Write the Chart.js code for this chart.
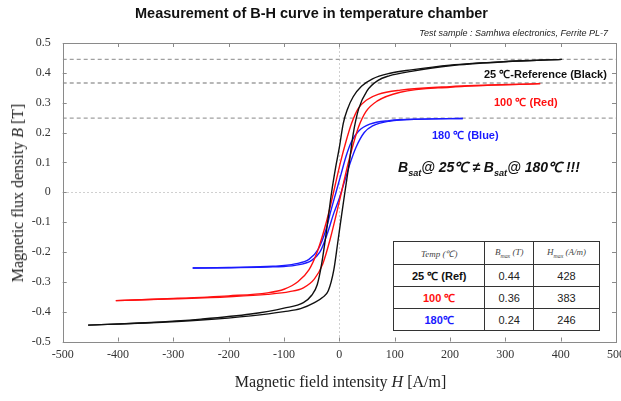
<!DOCTYPE html>
<html>
<head>
<meta charset="utf-8">
<script src="https://cdn.jsdelivr.net/npm/chart.js@4.4.1/dist/chart.umd.min.js"></script>
<style>
  body { margin: 0; background: #fff; }
  #wrap { position: relative; width: 621px; height: 401px; overflow: hidden; }
  #wrap canvas { position: absolute; left: 0; top: 0; }
  .txt { position: absolute; white-space: nowrap; line-height: 1; }
  .title { font: bold 14.5px "Liberation Sans", Arial, sans-serif; color: #111; left: 0; width: 623px; text-align: center; top: 5px; }
  .sub { font: italic 9px "Liberation Sans", Arial, sans-serif; color: #222; right: 13px; top: 28px; }
  .axt { font: 16px "Liberation Serif", "Times New Roman", serif; color: #222; }
  .lab { font: bold 11px "Liberation Sans", Arial, sans-serif; }
  .bsat { font: italic bold 14px "Liberation Sans", Arial, sans-serif; color: #111; }
  .bsat sub, th sub { font-size: 0.65em; }
  table { position: absolute; left: 393px; top: 241px; width: 207px; height: 87px;
          border-collapse: collapse; background: #fff; border: 1.5px solid #222; }
  td, th { border: 1px solid #333; text-align: center; padding: 0; }
  th { font: italic normal 9px "Liberation Serif", serif; color: #444; height: 22px; }
  td { font: 11px "Liberation Sans", Arial, sans-serif; color: #222; height: 21px; }
  td.t { font-weight: bold; }
</style>
</head>
<body>
<div id="wrap">
  <canvas id="bh" width="621" height="401"></canvas>
  <div class="txt title">Measurement of B-H curve in temperature chamber</div>
  <div class="txt sub">Test sample : Samhwa electronics, Ferrite PL-7</div>
  <div class="txt axt" style="left:0;width:681px;text-align:center;top:373px;">Magnetic field intensity <i>H</i> [A/m]</div>
  <div class="txt axt" style="left:18px;top:193px;transform:translate(-50%,-50%) rotate(-90deg);">Magnetic flux density <i>B</i> [T]</div>
  <div class="txt lab" style="left:484px;top:66px;color:#111;">25 ℃-Reference (Black)</div>
  <div class="txt lab" style="left:494px;top:94px;color:#ff1010;">100 ℃ (Red)</div>
  <div class="txt lab" style="left:432px;top:127px;color:#1a1aff;">180 ℃ (Blue)</div>
  <div class="txt bsat" style="left:398px;top:157px;">B<sub>sat</sub>@ 25℃ ≠ B<sub>sat</sub>@ 180℃ !!!</div>
  <table>
    <tr><th>Temp (℃)</th><th>B<sub>max</sub> (T)</th><th>H<sub>max</sub> (A/m)</th></tr>
    <tr><td class="t" style="color:#111;">25 ℃ (Ref)</td><td>0.44</td><td>428</td></tr>
    <tr><td class="t" style="color:#ff1010;">100 ℃</td><td>0.36</td><td>383</td></tr>
    <tr><td class="t" style="color:#1a1aff;">180℃</td><td>0.24</td><td>246</td></tr>
  </table>
</div>
<script>
// 25 C (black) loop
const hBlackDown = [-454, -350, -250, -160, -100, -65, -50, -40, -32, -24, -14, -7, 0, 7, 15, 25, 40, 60, 90, 130, 200, 300, 402];
const bBlackDown = [-0.445, -0.437, -0.425, -0.408, -0.388, -0.37, -0.345, -0.31, -0.24, -0.14, 0.0, 0.08, 0.15, 0.23, 0.28, 0.32, 0.355, 0.38, 0.398, 0.41, 0.426, 0.438, 0.445];
const hBlackUp = [-454, -350, -250, -160, -100, -70, -45, -30, -20, -10, -3, 3, 10, 18, 25, 35, 50, 70, 90, 130, 200, 300, 402];
const bBlackUp = [-0.445, -0.438, -0.428, -0.414, -0.4, -0.39, -0.37, -0.352, -0.33, -0.26, -0.17, -0.09, 0.0, 0.1, 0.195, 0.28, 0.34, 0.375, 0.39, 0.405, 0.424, 0.437, 0.445];

// 100 C (red) loop
const hRedDown = [-404, -300, -200, -130, -100, -75, -55, -40, -28, -18, -8, 2, 12, 22, 34, 50, 70, 110, 200, 363];
const bRedDown = [-0.363, -0.356, -0.347, -0.337, -0.325, -0.3, -0.26, -0.2, -0.13, -0.06, 0.02, 0.1, 0.17, 0.23, 0.28, 0.31, 0.328, 0.342, 0.354, 0.364];
const hRedUp = [-404, -300, -200, -130, -90, -65, -45, -30, -17, -5, 5, 15, 25, 35, 48, 68, 110, 200, 363];
const bRedUp = [-0.363, -0.357, -0.35, -0.342, -0.333, -0.32, -0.29, -0.24, -0.16, -0.07, 0.01, 0.09, 0.16, 0.22, 0.27, 0.305, 0.335, 0.352, 0.364];

// 180 C (blue) loop
const hBlueDown = [-265, -200, -120, -80, -55, -38, -25, -15, -6, 3, 12, 22, 35, 55, 90, 150, 223];
const bBlueDown = [-0.254, -0.252, -0.248, -0.24, -0.225, -0.19, -0.13, -0.06, 0.0, 0.06, 0.12, 0.17, 0.205, 0.228, 0.24, 0.245, 0.247];
const hBlueUp = [-265, -200, -120, -80, -50, -35, -22, -10, 0, 10, 20, 30, 45, 60, 90, 150, 223];
const bBlueUp = [-0.254, -0.253, -0.25, -0.245, -0.228, -0.2, -0.14, -0.07, -0.02, 0.04, 0.1, 0.15, 0.2, 0.222, 0.238, 0.245, 0.247];

// saturation reference levels (dashed)
const satLevels = [0.445, 0.366, 0.248];
const hRange = [-500, 500];

const pts = (h, b) => h.map((v, i) => ({ x: v, y: b[i] }));

const curve = (h, b, color) => ({
  data: pts(h, b),
  showLine: true,
  borderColor: color,
  borderWidth: 1.4,
  pointRadius: 0,
  cubicInterpolationMode: "monotone",
  fill: false,
});

const refLines = satLevels.map((v) => ({
  data: hRange.map((x) => ({ x, y: v })),
  showLine: true,
  borderColor: "#a0a0a0",
  borderWidth: 1.3,
  borderDash: [4, 3],
  pointRadius: 0,
}));

// inward ticks on all four sides + frame
const frameTicks = {
  id: "frameTicks",
  afterDraw(chart) {
    const { ctx, chartArea: a, scales: { x, y } } = chart;
    ctx.save();
    ctx.strokeStyle = "#8a8a8a";
    ctx.lineWidth = 1;
    ctx.beginPath();
    x.ticks.forEach((t) => {
      const px = Math.round(x.getPixelForValue(t.value)) + 0.5;
      ctx.moveTo(px, a.bottom); ctx.lineTo(px, a.bottom - 4);
      ctx.moveTo(px, a.top); ctx.lineTo(px, a.top + 4);
    });
    y.ticks.forEach((t) => {
      const py = Math.round(y.getPixelForValue(t.value)) + 0.5;
      ctx.moveTo(a.left, py); ctx.lineTo(a.left + 4, py);
      ctx.moveTo(a.right, py); ctx.lineTo(a.right - 4, py);
    });
    ctx.stroke();
    ctx.strokeRect(Math.round(a.left) + 0.5, Math.round(a.top) + 0.5,
      Math.round(a.right - a.left), Math.round(a.bottom - a.top));
    ctx.restore();
  },
};

const zeroGrid = (c) => (c.tick && c.tick.value === 0 ? "#d0d0d0" : "rgba(0,0,0,0)");
const tickFont = { family: "'Liberation Serif', 'Times New Roman', serif", size: 12 };

new Chart(document.getElementById("bh"), {
  type: "scatter",
  data: {
    datasets: [
      curve(hBlackDown, bBlackDown, "#111"),
      curve(hBlackUp, bBlackUp, "#111"),
      curve(hRedDown, bRedDown, "#ff1010"),
      curve(hRedUp, bRedUp, "#ff1010"),
      curve(hBlueDown, bBlueDown, "#1a1aff"),
      curve(hBlueUp, bBlueUp, "#1a1aff"),
      ...refLines,
    ],
  },
  options: {
    responsive: false,
    animation: false,
    layout: { padding: { left: 0, right: 5, top: 43, bottom: 0 } },
    plugins: { legend: { display: false }, tooltip: { enabled: false } },
    scales: {
      x: {
        type: "linear",
        min: -500,
        max: 500,
        ticks: { stepSize: 100, color: "#333", font: tickFont, padding: 6, maxRotation: 0 },
        grid: { color: zeroGrid, drawTicks: false, lineWidth: 1 },
        border: { display: false, dash: [2, 2] },
        afterFit: (s) => { s.height = 59.5; s.paddingLeft = 0; s.paddingRight = 0; },
      },
      y: {
        type: "linear",
        min: -0.5,
        max: 0.5,
        ticks: {
          stepSize: 0.1,
          color: "#333",
          font: tickFont,
          padding: 12,
          callback: (v) => String(Number(v.toFixed(1))),
        },
        grid: { color: zeroGrid, drawTicks: false, lineWidth: 1 },
        border: { display: false, dash: [2, 2] },
        afterFit: (s) => { s.width = 62.7; s.paddingTop = 0; s.paddingBottom = 0; },
      },
    },
  },
  plugins: [frameTicks],
});
</script>
</body>
</html>
